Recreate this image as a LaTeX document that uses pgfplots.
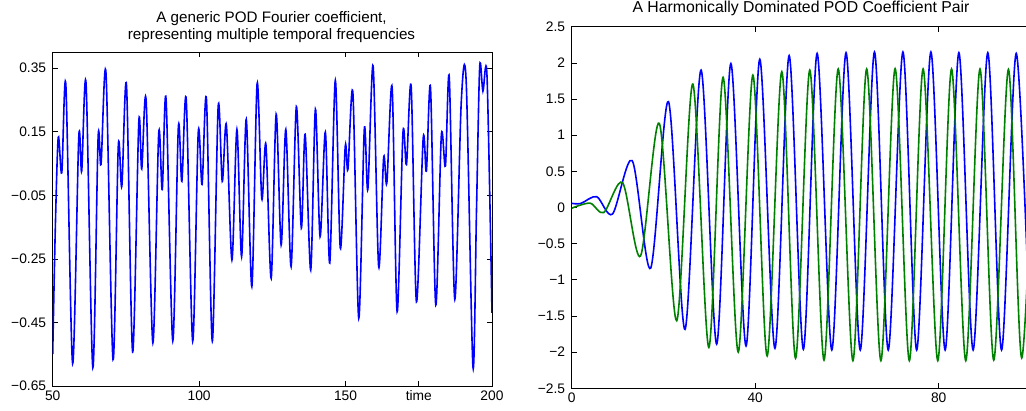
\documentclass[border=0pt]{standalone}
\usepackage{pgfplots}
\pgfplotsset{compat=1.18}
\usepackage{fontspec}
\setmainfont{Liberation Sans}
\definecolor{mblue}{rgb}{0,0,1}
\definecolor{mgreen}{rgb}{0,0.5,0}
\pgfplotsset{mstyle/.style={
  scale only axis, anchor=south west,
  axis line style={black, line width=0.9pt},
  tick style={black, line width=0.7pt},
  major tick length=5pt, tick align=inside,
  tick label style={font=\fontsize{13.8}{15}\selectfont, text=black},
  yticklabel style={xshift=-3pt},
  xticklabel style={yshift=-1pt},
  clip=true,
}}
\begin{document}
\begin{tikzpicture}[x=1pt,y=1pt]
\useasboundingbox (0,0) rectangle (1026,410);
\clip (0,0) rectangle (1026,410);
\begin{axis}[mstyle, at={(52.7pt,24pt)}, width=439.3pt, height=333.7pt,
  xmin=50, xmax=200, ymin=-0.65, ymax=0.4,
  xtick={50,100,150,175,200}, xticklabels={50,100,150,time,200},
  ytick={-0.65,-0.45,-0.25,-0.05,0.15,0.35},
  yticklabels={−0.65,−0.45,−0.25,−0.05,0.15,0.35}]
\addplot[mblue, line width=1.6pt, smooth, tension=0.5] coordinates {
(50,-0.55) (50.9,-0.15) (51.9,0.133) (53.1,0.021) (54.5,0.296) (56.8,-0.579)
(58.9,0.133) (59.9,0.026) (61.4,0.300) (63.7,-0.592)
(65.5,0.13) (66.5,0.047) (68.2,0.334) (70.6,-0.567)
(72.4,0.105) (73.6,-0.022) (75.2,0.296) (77.3,-0.543)
(79.4,0.18) (80.4,0.033) (81.9,0.249) (84.2,-0.514)
(86.2,0.145) (87.4,-0.032) (88.7,0.254) (91.0,-0.508)
(92.9,0.163) (94.1,-0.006) (95.6,0.251) (97.8,-0.509)
(99.7,0.148) (101.0,-0.016) (102.5,0.252) (104.5,-0.509)
(106.5,0.229) (107.9,-0.006) (109.3,0.172) (111.2,-0.253)
(112.9,0.157) (114.5,-0.243) (116.1,0.189) (118.0,-0.337)
(119.8,0.302) (121.4,-0.061) (122.8,0.11) (124.6,-0.311)
(126.3,0.205) (128.0,-0.206) (129.6,0.157) (131.4,-0.274)
(133.2,0.229) (134.9,-0.153) (136.2,0.142) (138.1,-0.285)
(139.7,0.221) (141.3,-0.18) (143.1,0.149) (144.6,-0.263)
(146.5,0.312) (148.2,-0.216) (149.9,0.105) (150.8,0.031)
(152.5,0.272) (154.5,-0.437) (156.4,0.158) (157.6,-0.032)
(159.4,0.357) (161.3,-0.274) (163.0,0.068) (164.1,-0.011)
(165.9,0.289) (167.6,-0.416) (169.6,0.147) (170.8,0.047)
(172.4,0.292) (174.2,-0.385) (176.5,0.129) (177.6,0.026)
(179.0,0.289) (180.8,-0.395) (182.7,0.138) (184.1,0.042)
(185.4,0.322) (187.3,-0.377) (189.5,0.243) (191.2,0.305)
(193.5,-0.59) (194.7,-0.1) (195.8,0.355) (196.9,0.278) (198.3,0.324) (200,-0.42)
};
\end{axis}
\node[anchor=base, font=\fontsize{15.2}{17}\selectfont, text=black] at (271.5,387.3) {A generic POD Fourier coefficient,};
\node[anchor=base, font=\fontsize{15.2}{17}\selectfont, text=black] at (271.5,370.7) {representing multiple temporal frequencies};
\begin{axis}[mstyle, at={(571.7pt,21.7pt)}, width=458.75pt, height=361.6pt,
  xmin=0, xmax=100, ymin=-2.5, ymax=2.5, ytick pos=left,
  xtick={0,40,80}, xticklabels={0,40,80},
  ytick={-2.5,-2,-1.5,-1,-0.5,0,0.5,1,1.5,2,2.5},
  yticklabels={−2.5,−2,−1.5,−1,−0.5,0,0.5,1,1.5,2,2.5}]
\addplot[mblue, line width=1.6pt, smooth] coordinates {
(0,0.058) (2,0.056) (5.45,0.15) (8.9,-0.09) (13.2,0.647) (17.2,-0.84)
(21.1,1.463) (24.7,-1.685) (28.2,1.90) (31.6,-1.888) (34.7,1.99)
(38.0,-1.915) (41.0,2.05) (44.3,-1.947) (47.4,2.10) (50.5,-1.96)
(53.5,2.13) (56.7,-1.97) (59.8,2.14) (62.9,-1.97) (66.0,2.15)
(69.0,-1.97) (72.2,2.15) (75.2,-1.97) (78.3,2.15) (81.4,-1.97)
(84.4,2.14) (87.5,-1.97) (90.7,2.14) (93.7,-1.97) (96.9,2.13) (100,-1.97)
};
\addplot[mgreen, line width=1.6pt, smooth] coordinates {
(0,-0.01) (4.0,0.06) (7.0,-0.07) (11.1,0.343) (15.0,-0.67)
(19.1,1.164) (22.9,-1.565) (26.4,1.707) (29.9,-1.935) (33.0,1.80)
(36.3,-2.0) (39.5,1.83) (42.6,-2.053) (45.8,1.878) (48.8,-2.085)
(51.9,1.90) (55.0,-2.11) (58.1,1.915) (61.3,-2.118) (64.3,1.915)
(67.4,-2.118) (70.5,1.92) (73.6,-2.118) (76.6,1.915) (79.8,-2.118)
(82.8,1.915) (85.9,-2.118) (89.0,1.915) (92.0,-2.11) (95.2,1.91)
(98.1,-2.08) (101.2,1.91)
};
\end{axis}
\node[anchor=base, font=\fontsize{15.8}{17}\selectfont, text=black] at (801,397.3) {A Harmonically Dominated POD Coefficient Pair};
\end{tikzpicture}
\end{document}
